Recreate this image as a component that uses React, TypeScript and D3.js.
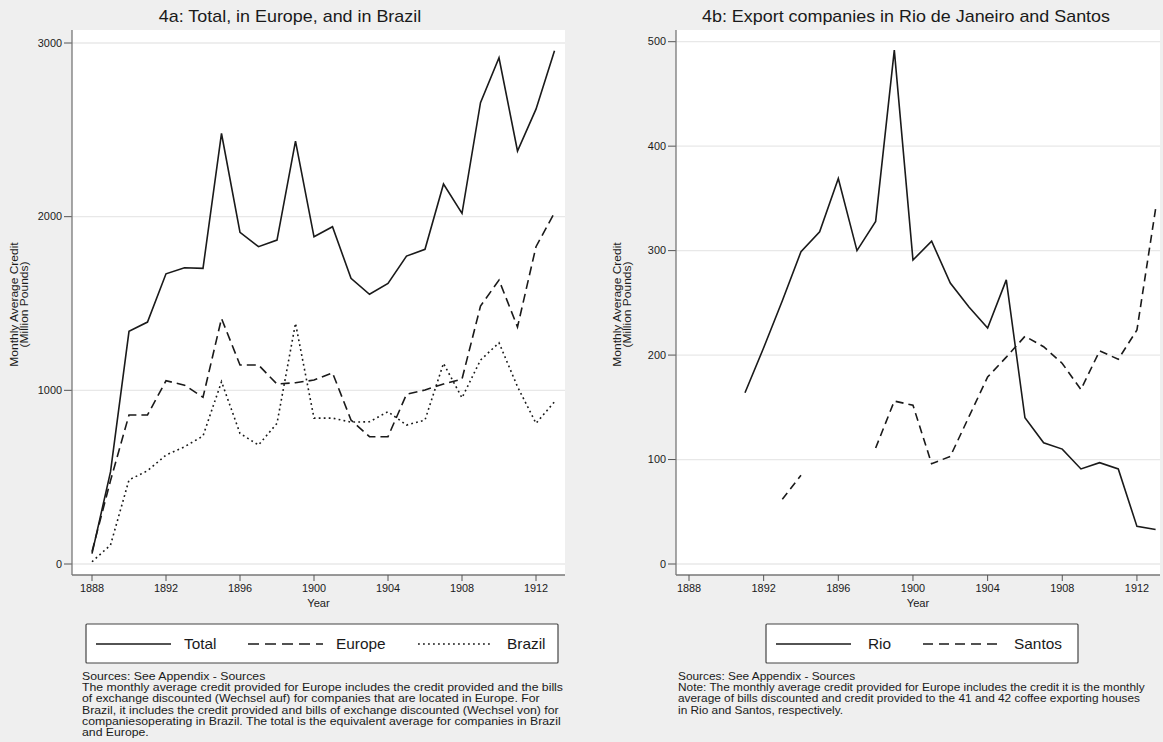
import React from "react";
import * as d3 from "d3";

const years = [1888, 1889, 1890, 1891, 1892, 1893, 1894, 1895, 1896, 1897, 1898, 1899, 1900, 1901, 1902, 1903, 1904, 1905, 1906, 1907, 1908, 1909, 1910, 1911, 1912, 1913];
const totalCredit = [60, 530, 1340, 1393, 1671, 1706, 1702, 2479, 1910, 1827, 1865, 2435, 1884, 1942, 1645, 1553, 1616, 1773, 1812, 2188, 2019, 2656, 2915, 2378, 2619, 2955];
const europeCredit = [71, 480, 858, 858, 1055, 1030, 960, 1414, 1146, 1146, 1036, 1044, 1059, 1101, 829, 733, 733, 977, 1002, 1036, 1065, 1485, 1635, 1365, 1827, 2023];
const brazilCredit = [13, 109, 484, 537, 627, 675, 737, 1050, 752, 685, 810, 1386, 840, 840, 817, 819, 877, 800, 829, 1155, 957, 1174, 1274, 1021, 810, 934];
const rioCredit: (number | null)[] = [null, null, null, 164, 207, 252, 299, 318, 369, 300, 328, 492, 291, 309, 269, 246, 226, 272, 140, 116, 110, 91, 97, 91, 36, 33];
const santosCredit: (number | null)[] = [null, null, null, null, null, 62, 85, null, null, null, 111, 156, 152, 96, 103, 141, 179, 198, 218, 208, 192, 167, 204, 196, 224, 340];

const xTicks = [1888, 1892, 1896, 1900, 1904, 1908, 1912];
const yTicksA = [0, 1000, 2000, 3000];
const yTicksB = [0, 100, 200, 300, 400, 500];

const titleA = "4a: Total, in Europe, and in Brazil";
const titleB = "4b: Export companies in Rio de Janeiro and Santos";
const notesA = [
  "Sources: See Appendix - Sources",
  "The monthly average credit provided for Europe includes the credit provided and the bills",
  "of exchange discounted (Wechsel auf) for companies that are located in Europe. For",
  "Brazil, it includes the credit provided and bills of exchange discounted (Wechsel von) for",
  "companiesoperating in Brazil. The total is the equivalent average for companies in Brazil",
  "and Europe.",
];
const notesB = [
  "Sources: See Appendix - Sources",
  "Note: The monthly average credit provided for Europe includes the credit it is the monthly",
  "average of bills discounted and credit provided to the 41 and 42 coffee exporting houses",
  "in Rio and Santos, respectively.",
];

const FONT = "'Liberation Sans', Arial, Helvetica, sans-serif";
const INK = "#1a1a1a";

type Series = { name: string; values: (number | null)[]; dash: string };

type PanelProps = {
  x0: number; x1: number; top: number; bottom: number;
  xr: [number, number]; yr: [number, number]; ymax: number; yTicks: number[];
  title: string; titleX: number; yTitleX: number;
  series: Series[];
  legend: { box: [number, number]; items: { lx: number; tx: number; dash: string; label: string }[] };
  notes: string[]; notesX: number; notesScale: number;
};

function T(props: { x: number; y: number; s: number; size: number; anchor?: string; rot?: number; children: React.ReactNode }) {
  const rot = props.rot ? ` rotate(${props.rot})` : "";
  return (
    <text
      transform={`translate(${props.x},${props.y})${rot} scale(${props.s},1)`}
      textAnchor={props.anchor || "start"}
      fontSize={props.size}
      fill={INK}
    >
      {props.children}
    </text>
  );
}

function Panel(p: PanelProps) {
  const x = d3.scaleLinear().domain([1888, 1913]).range(p.xr);
  const y = d3.scaleLinear().domain([0, p.ymax]).range(p.yr);
  const line = d3
    .line<number | null>()
    .defined((d) => d != null)
    .x((_, i) => x(years[i]))
    .y((d) => y(d as number));
  const midY = (p.top + p.bottom) / 2 + 2;
  return (
    <g>
      <T x={p.titleX} y={22} s={1.12} size={16} anchor="middle">{p.title}</T>
      <rect x={p.x0} y={p.top} width={p.x1 - p.x0} height={p.bottom - p.top} fill="#ffffff" />
      {p.yTicks.map((t) => (
        <g key={t}>
          <line x1={p.x0} x2={p.x1} y1={y(t)} y2={y(t)} stroke="#e8e8e8" strokeWidth={1.3} />
          <line x1={p.x0 - 8} x2={p.x0} y1={y(t)} y2={y(t)} stroke="#555" strokeWidth={1} />
          <T x={p.x0 - 10} y={y(t) + 3.5} s={1.09} size={10} anchor="end">{t}</T>
        </g>
      ))}
      <line x1={p.x0} x2={p.x0} y1={p.top} y2={p.bottom} stroke="#777" strokeWidth={1.3} />
      <line x1={p.x0} x2={p.x1} y1={p.bottom} y2={p.bottom} stroke="#777" strokeWidth={1.3} />
      {xTicks.map((t) => (
        <g key={t}>
          <line x1={x(t)} x2={x(t)} y1={p.bottom} y2={p.bottom + 6} stroke="#555" strokeWidth={1} />
          <T x={x(t)} y={p.bottom + 17} s={1.09} size={10} anchor="middle">{t}</T>
        </g>
      ))}
      <T x={(p.x0 + p.x1) / 2} y={p.bottom + 32} s={1.12} size={10} anchor="middle">Year</T>
      <T x={p.yTitleX} y={midY} rot={-90} s={1.2} size={10} anchor="middle">Monthly Average Credit</T>
      <T x={p.yTitleX + 10} y={midY} rot={-90} s={1.2} size={10} anchor="middle">(Million Pounds)</T>
      {p.series.map((s) => (
        <path key={s.name} d={line(s.values) || ""} fill="none" stroke={INK} strokeWidth={1.6} strokeDasharray={s.dash} strokeLinejoin="miter" />
      ))}
      <rect x={p.legend.box[0]} y={624} width={p.legend.box[1] - p.legend.box[0]} height={39} fill="#ffffff" stroke="#444" strokeWidth={1.2} rx={1} />
      {p.legend.items.map((it) => (
        <g key={it.label}>
          <line x1={it.lx} x2={it.lx + 75} y1={644} y2={644} stroke={INK} strokeWidth={1.6} strokeDasharray={it.dash} />
          <T x={it.tx} y={649} s={1.1} size={14}>{it.label}</T>
        </g>
      ))}
      {p.notes.map((n, i) => (
        <T key={i} x={p.notesX} y={680 + i * 11.2} s={p.notesScale} size={10.4}>{n}</T>
      ))}
    </g>
  );
}

export default function App() {
  return (
    <svg width={1163} height={742} style={{ position: "absolute", left: 0, top: 0, fontFamily: FONT }}>
      <rect x={0} y={0} width={1163} height={742} fill="#efefef" />
      <Panel
        x0={72} x1={565} top={30} bottom={575}
        xr={[92, 554.5]} yr={[564, 43]} ymax={3000} yTicks={yTicksA}
        title={titleA} titleX={290} yTitleX={18}
        series={[
          { name: "Total", values: totalCredit, dash: "" },
          { name: "Europe", values: europeCredit, dash: "9,5" },
          { name: "Brazil", values: brazilCredit, dash: "1.8,3.2" },
        ]}
        legend={{
          box: [86, 558],
          items: [
            { lx: 96, tx: 184, dash: "", label: "Total" },
            { lx: 248, tx: 336, dash: "11,6", label: "Europe" },
            { lx: 418, tx: 507, dash: "1.8,3.2", label: "Brazil" },
          ],
        }}
        notes={notesA} notesX={82} notesScale={1.18}
      />
      <Panel
        x0={676} x1={1160} top={30} bottom={575}
        xr={[689, 1155.6]} yr={[564, 41.7]} ymax={500} yTicks={yTicksB}
        title={titleB} titleX={906} yTitleX={621}
        series={[
          { name: "Rio", values: rioCredit, dash: "" },
          { name: "Santos", values: santosCredit, dash: "8,5" },
        ]}
        legend={{
          box: [766, 1078],
          items: [
            { lx: 776, tx: 868, dash: "", label: "Rio" },
            { lx: 923, tx: 1014, dash: "10,6", label: "Santos" },
          ],
        }}
        notes={notesB} notesX={678} notesScale={1.14}
      />
    </svg>
  );
}
